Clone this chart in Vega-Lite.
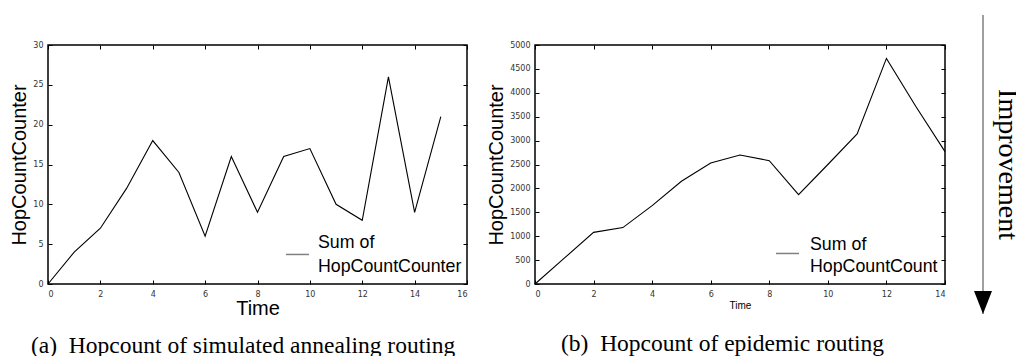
{
  "$schema": "https://vega.github.io/schema/vega-lite/v6.json",
  "padding": {"left": 9, "top": 14, "right": 0, "bottom": 0},
  "background": "#ffffff",
  "datasets": {
    "annealing": [
      {"Time": 0, "HopCountCounter": 0},
      {"Time": 1, "HopCountCounter": 4},
      {"Time": 2, "HopCountCounter": 7},
      {"Time": 3, "HopCountCounter": 12},
      {"Time": 4, "HopCountCounter": 18},
      {"Time": 5, "HopCountCounter": 14},
      {"Time": 6, "HopCountCounter": 6},
      {"Time": 7, "HopCountCounter": 16},
      {"Time": 8, "HopCountCounter": 9},
      {"Time": 9, "HopCountCounter": 16},
      {"Time": 10, "HopCountCounter": 17},
      {"Time": 11, "HopCountCounter": 10},
      {"Time": 12, "HopCountCounter": 8},
      {"Time": 13, "HopCountCounter": 26},
      {"Time": 14, "HopCountCounter": 9},
      {"Time": 15, "HopCountCounter": 21}
    ],
    "epidemic": [
      {"Time": 0, "HopCountCounter": 0},
      {"Time": 1, "HopCountCounter": 540},
      {"Time": 2, "HopCountCounter": 1080},
      {"Time": 3, "HopCountCounter": 1180},
      {"Time": 4, "HopCountCounter": 1640},
      {"Time": 5, "HopCountCounter": 2150},
      {"Time": 6, "HopCountCounter": 2530},
      {"Time": 7, "HopCountCounter": 2700},
      {"Time": 8, "HopCountCounter": 2580},
      {"Time": 9, "HopCountCounter": 1870},
      {"Time": 10, "HopCountCounter": 2500},
      {"Time": 11, "HopCountCounter": 3140},
      {"Time": 12, "HopCountCounter": 4720},
      {"Time": 13, "HopCountCounter": 3720},
      {"Time": 14, "HopCountCounter": 2770}
    ],
    "arrow": [
      {"part": "arrow", "from": 1, "to": 0},
      {"part": "label", "text": "Improvement", "level": 0.5}
    ]
  },
  "config": {
    "font": "Liberation Sans",
    "view": {"stroke": "#000000", "strokeWidth": 1.5},
    "axis": {
      "grid": false,
      "domain": false,
      "tickColor": "#000000",
      "tickSize": -4,
      "tickWidth": 1,
      "labelFont": "DejaVu Sans",
      "labelFontSize": 8,
      "labelColor": "#333333",
      "titleFont": "Liberation Sans",
      "titleFontWeight": "normal",
      "titleColor": "#000000"
    },
    "axisX": {"labelPadding": 10.5},
    "axisY": {"labelPadding": 9, "titleFontSize": 20, "titlePadding": 3, "format": "d"},
    "legend": {
      "title": null,
      "orient": "none",
      "padding": 0,
      "symbolSize": 529,
      "symbolStrokeWidth": 1.5,
      "symbolOpacity": 1,
      "labelFont": "Liberation Sans",
      "labelFontSize": 17.8,
      "labelColor": "#000000",
      "labelLimit": 0
    },
    "title": {
      "font": "Liberation Serif",
      "fontSize": 23.5,
      "fontWeight": "normal",
      "color": "#000000",
      "orient": "bottom",
      "anchor": "start",
      "frame": "group"
    }
  },
  "bounds": "flush",
  "spacing": 68,
  "resolve": {"scale": {"color": "independent"}, "legend": {"color": "independent"}},
  "hconcat": [
    {
      "width": 419,
      "height": 239,
      "title": {"text": "(a)\u2002Hopcount of simulated annealing routing", "dx": -17, "offset": 15},
      "data": {"name": "annealing"},
      "resolve": {"axis": {"x": "independent", "y": "independent"}},
      "layer": [
        {
          "mark": {"type": "line", "strokeWidth": 1.1, "color": "#000000"},
          "encoding": {
            "x": {"field": "Time", "type": "quantitative",
              "scale": {"domain": [0, 16], "nice": false},
              "axis": {"values": [0, 2, 4, 6, 8, 10, 12, 14, 16], "title": "Time", "titleFontSize": 20, "titlePadding": 0}},
            "y": {"field": "HopCountCounter", "type": "quantitative",
              "scale": {"domain": [0, 30], "nice": false},
              "axis": {"values": [0, 5, 10, 15, 20, 25, 30], "title": "HopCountCounter"}}
          }
        },
        {
          "mark": {"type": "line", "opacity": 0},
          "encoding": {
            "x": {"field": "Time", "type": "quantitative",
              "axis": {"orient": "top", "labels": false, "title": null, "values": [0, 2, 4, 6, 8, 10, 12, 14, 16]}},
            "y": {"field": "HopCountCounter", "type": "quantitative",
              "axis": {"orient": "right", "labels": false, "title": null, "values": [0, 5, 10, 15, 20, 25, 30]}},
            "color": {"datum": "Sum of HopCountCounter", "type": "nominal",
              "scale": {"range": ["#808080"]},
              "legend": {"legendX": 237, "legendY": 185, "labelOffset": 8,
                "symbolType": "M-1,1.04L1,1.04",
                "labelExpr": "['Sum of', slice(datum.label, 7)]",
                "encode": {"labels": {"update": {"lineHeight": {"value": 24}}}}}}
          }
        }
      ]
    },
    {
      "width": 410,
      "height": 239,
      "title": {"text": "(b)\u2002Hopcount of epidemic routing", "dx": 26, "offset": 21},
      "data": {"name": "epidemic"},
      "resolve": {"axis": {"x": "independent", "y": "independent"}},
      "layer": [
        {
          "mark": {"type": "line", "strokeWidth": 1.1, "color": "#000000"},
          "encoding": {
            "x": {"field": "Time", "type": "quantitative",
              "scale": {"domain": [0, 14], "nice": false},
              "axis": {"values": [0, 2, 4, 6, 8, 10, 12, 14], "title": "Time", "titleFontSize": 10, "titlePadding": 2}},
            "y": {"field": "HopCountCounter", "type": "quantitative",
              "scale": {"domain": [0, 5000], "nice": false},
              "axis": {"values": [0, 500, 1000, 1500, 2000, 2500, 3000, 3500, 4000, 4500, 5000], "title": "HopCountCounter"}}
          }
        },
        {
          "mark": {"type": "line", "opacity": 0},
          "encoding": {
            "x": {"field": "Time", "type": "quantitative",
              "axis": {"orient": "top", "labels": false, "title": null, "values": [0, 2, 4, 6, 8, 10, 12, 14]}},
            "y": {"field": "HopCountCounter", "type": "quantitative",
              "axis": {"orient": "right", "labels": false, "title": null, "values": [0, 500, 1000, 1500, 2000, 2500, 3000, 3500, 4000, 4500, 5000]}},
            "color": {"datum": "Sum of HopCountCount", "type": "nominal",
              "scale": {"range": ["#808080"]},
              "legend": {"legendX": 240, "legendY": 187, "labelOffset": 10,
                "symbolType": "M-1,0.78L1,0.78",
                "labelExpr": "['Sum of', slice(datum.label, 7)]",
                "encode": {"labels": {"update": {"lineHeight": {"value": 22}}}}}}
          }
        }
      ]
    },
    {
      "width": 1,
      "height": 239,
      "view": {"stroke": null},
      "data": {"name": "arrow"},
      "encoding": {
        "x": {"field": "part", "type": "nominal",
          "scale": {"type": "point", "domain": ["arrow", "label"], "range": [-30, -14.5], "padding": 0},
          "axis": null}
      },
      "layer": [
        {
          "transform": [{"filter": "datum.part === 'arrow'"}],
          "mark": {"type": "rule", "color": "#808080", "strokeWidth": 1.5},
          "encoding": {
            "y": {"field": "from", "type": "quantitative",
              "scale": {"domain": [0, 1], "range": [269, -30], "nice": false, "zero": false}, "axis": null},
            "y2": {"field": "to"}
          }
        },
        {
          "transform": [{"filter": "datum.part === 'arrow'"}],
          "mark": {"type": "point", "shape": "M-0.78,-2L0.78,-2L0,0Z", "filled": true, "color": "#000000", "opacity": 1, "size": 529},
          "encoding": {
            "y": {"field": "to", "type": "quantitative", "axis": null}
          }
        },
        {
          "transform": [{"filter": "datum.part === 'label'"}],
          "mark": {"type": "text", "angle": 90, "align": "center", "baseline": "alphabetic", "font": "Liberation Serif", "fontSize": 28, "color": "#000000"},
          "encoding": {
            "y": {"field": "level", "type": "quantitative", "axis": null},
            "text": {"field": "text"}
          }
        }
      ]
    }
  ]
}
